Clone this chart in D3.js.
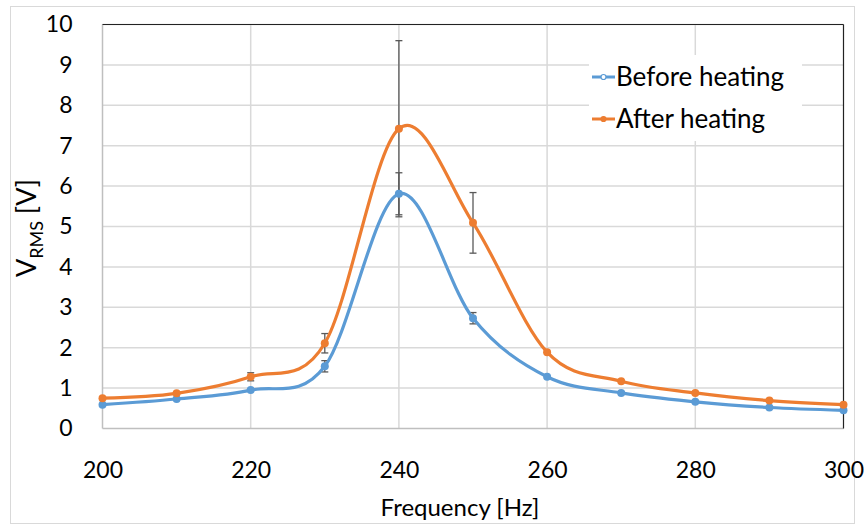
<!DOCTYPE html>
<html>
<head>
<meta charset="utf-8">
<script src="https://cdn.jsdelivr.net/npm/d3@7"></script>
<style>
  body { margin: 0; background: #fff; }
  text { font-family: Lato, "Open Sans", sans-serif; fill: #000; }
</style>
</head>
<body>
<svg id="chart" width="864" height="525"></svg>
<script>
// frequencies in Hz
const freqs = [200, 210, 220, 230, 240, 250, 260, 270, 280, 290, 300];
// RMS voltage before heating and its error bar
const beforeVals = [0.59, 0.73, 0.95, 1.54, 5.81, 2.73, 1.28, 0.88, 0.66, 0.52, 0.45];
const beforeErr  = [0, 0, 0, 0.14, 0.52, 0.14, 0, 0, 0, 0, 0];
// RMS voltage after heating and its error bar
const afterVals  = [0.75, 0.87, 1.28, 2.11, 7.42, 5.09, 1.89, 1.17, 0.88, 0.69, 0.59];
const afterErr   = [0, 0, 0.1, 0.24, 2.18, 0.75, 0, 0, 0, 0, 0];

const xTicks = [200, 220, 240, 260, 280, 300];
const yTicks = [0, 1, 2, 3, 4, 5, 6, 7, 8, 9, 10];

const series = [
  { name: "Before heating", color: "#5b9bd5", vals: beforeVals, err: beforeErr },
  { name: "After heating",  color: "#ed7d31", vals: afterVals,  err: afterErr }
];

const svg = d3.select("#chart");
const plotL = 102.5, plotR = 843.5, plotT = 24.5, plotB = 428.5;

const x = d3.scaleLinear().domain([200, 300]).range([plotL, plotR]);
const y = d3.scaleLinear().domain([0, 10]).range([plotB, plotT]);

// outer chart border
svg.append("rect")
  .attr("x", 10.5).attr("y", 6.5).attr("width", 844).attr("height", 517)
  .attr("fill", "none").attr("stroke", "#d9d9d9");

// gridlines
svg.append("g").selectAll("line").data(yTicks.slice(1))
  .enter().append("line")
    .attr("x1", plotL).attr("x2", plotR)
    .attr("y1", d => y(d)).attr("y2", d => y(d))
    .attr("stroke", "#d9d9d9").attr("stroke-width", 1.5);
svg.append("g").selectAll("line").data(xTicks.slice(1, -1))
  .enter().append("line")
    .attr("x1", d => x(d)).attr("x2", d => x(d))
    .attr("y1", plotT).attr("y2", plotB)
    .attr("stroke", "#d9d9d9").attr("stroke-width", 1.5);

// plot frame: grey axes, dark top/right
svg.append("line").attr("x1", plotL).attr("x2", plotR).attr("y1", plotB).attr("y2", plotB)
  .attr("stroke", "#bfbfbf").attr("stroke-width", 1.5);
svg.append("line").attr("x1", plotL).attr("x2", plotL).attr("y1", plotT).attr("y2", plotB)
  .attr("stroke", "#bfbfbf").attr("stroke-width", 1.5);
svg.append("line").attr("x1", plotL).attr("x2", plotR).attr("y1", plotT).attr("y2", plotT)
  .attr("stroke", "#222").attr("stroke-width", 1.2);
svg.append("line").attr("x1", plotR).attr("x2", plotR).attr("y1", plotT).attr("y2", plotB)
  .attr("stroke", "#222").attr("stroke-width", 1.2);

// axes via d3 (domain and ticks hidden, labels only)
const xAxis = svg.append("g")
  .attr("transform", `translate(0,${plotB})`)
  .call(d3.axisBottom(x).tickValues(xTicks).tickSize(0).tickPadding(33));
xAxis.select(".domain").remove();
xAxis.selectAll("text").style("font-size", "23px").attr("fill", "#000");

const yAxis = svg.append("g")
  .attr("transform", `translate(${plotL},0)`)
  .call(d3.axisLeft(y).tickValues(yTicks).tickSize(0).tickPadding(30));
yAxis.select(".domain").remove();
yAxis.selectAll("text").style("font-size", "23px").attr("fill", "#000");

// axis titles
svg.append("text")
  .attr("x", 460).attr("y", 516)
  .attr("text-anchor", "middle").style("font-size", "24px")
  .text("Frequency [Hz]");

const yt = svg.append("text")
  .attr("transform", "translate(36,228) rotate(-90)")
  .attr("text-anchor", "middle").style("font-size", "27px");
yt.append("tspan").text("V");
yt.append("tspan").attr("dy", 7).style("font-size", "18px").text("RMS");
yt.append("tspan").attr("dy", -7).text(" [V]");

// error bars
const errG = svg.append("g");
series.forEach(s => {
  freqs.forEach((f, i) => {
    const e = s.err[i];
    if (!e) return;
    const cx = x(f), y1 = y(s.vals[i] + e), y2 = y(s.vals[i] - e);
    errG.append("line").attr("x1", cx).attr("x2", cx).attr("y1", y1).attr("y2", y2)
      .attr("stroke", "#595959").attr("stroke-width", 1.3);
    [y1, y2].forEach(yy => errG.append("line")
      .attr("x1", cx - 3.5).attr("x2", cx + 3.5).attr("y1", yy).attr("y2", yy)
      .attr("stroke", "#595959").attr("stroke-width", 1.3));
  });
});

// smoothed lines (Excel-style Catmull-Rom)
const line = d3.line()
  .x((d, i) => x(freqs[i]))
  .y(d => y(d))
  .curve(d3.curveCardinal.tension(0));

series.forEach(s => {
  svg.append("path")
    .datum(s.vals)
    .attr("d", line)
    .attr("fill", "none")
    .attr("stroke", s.color)
    .attr("stroke-width", 3.2);
  svg.append("g").selectAll("circle").data(s.vals)
    .enter().append("circle")
      .attr("cx", (d, i) => x(freqs[i]))
      .attr("cy", d => y(d))
      .attr("r", 4)
      .attr("fill", s.color);
});

// legend
const lg = svg.append("g");
lg.append("rect").attr("x", 589).attr("y", 55).attr("width", 213).attr("height", 86).attr("fill", "#fff");
series.forEach((s, i) => {
  const ly = 77 + i * 42;
  lg.append("line").attr("x1", 592).attr("x2", 615).attr("y1", ly).attr("y2", ly)
    .attr("stroke", s.color).attr("stroke-width", 3);
  lg.append("circle").attr("cx", 603.5).attr("cy", ly).attr("r", 2.5)
    .attr("fill", i === 0 ? "#fff" : s.color).attr("stroke", s.color).attr("stroke-width", 1.2);
  lg.append("text").attr("x", 616).attr("y", ly + 9)
    .style("font-size", "26px").text(s.name);
});
</script>
</body>
</html>
